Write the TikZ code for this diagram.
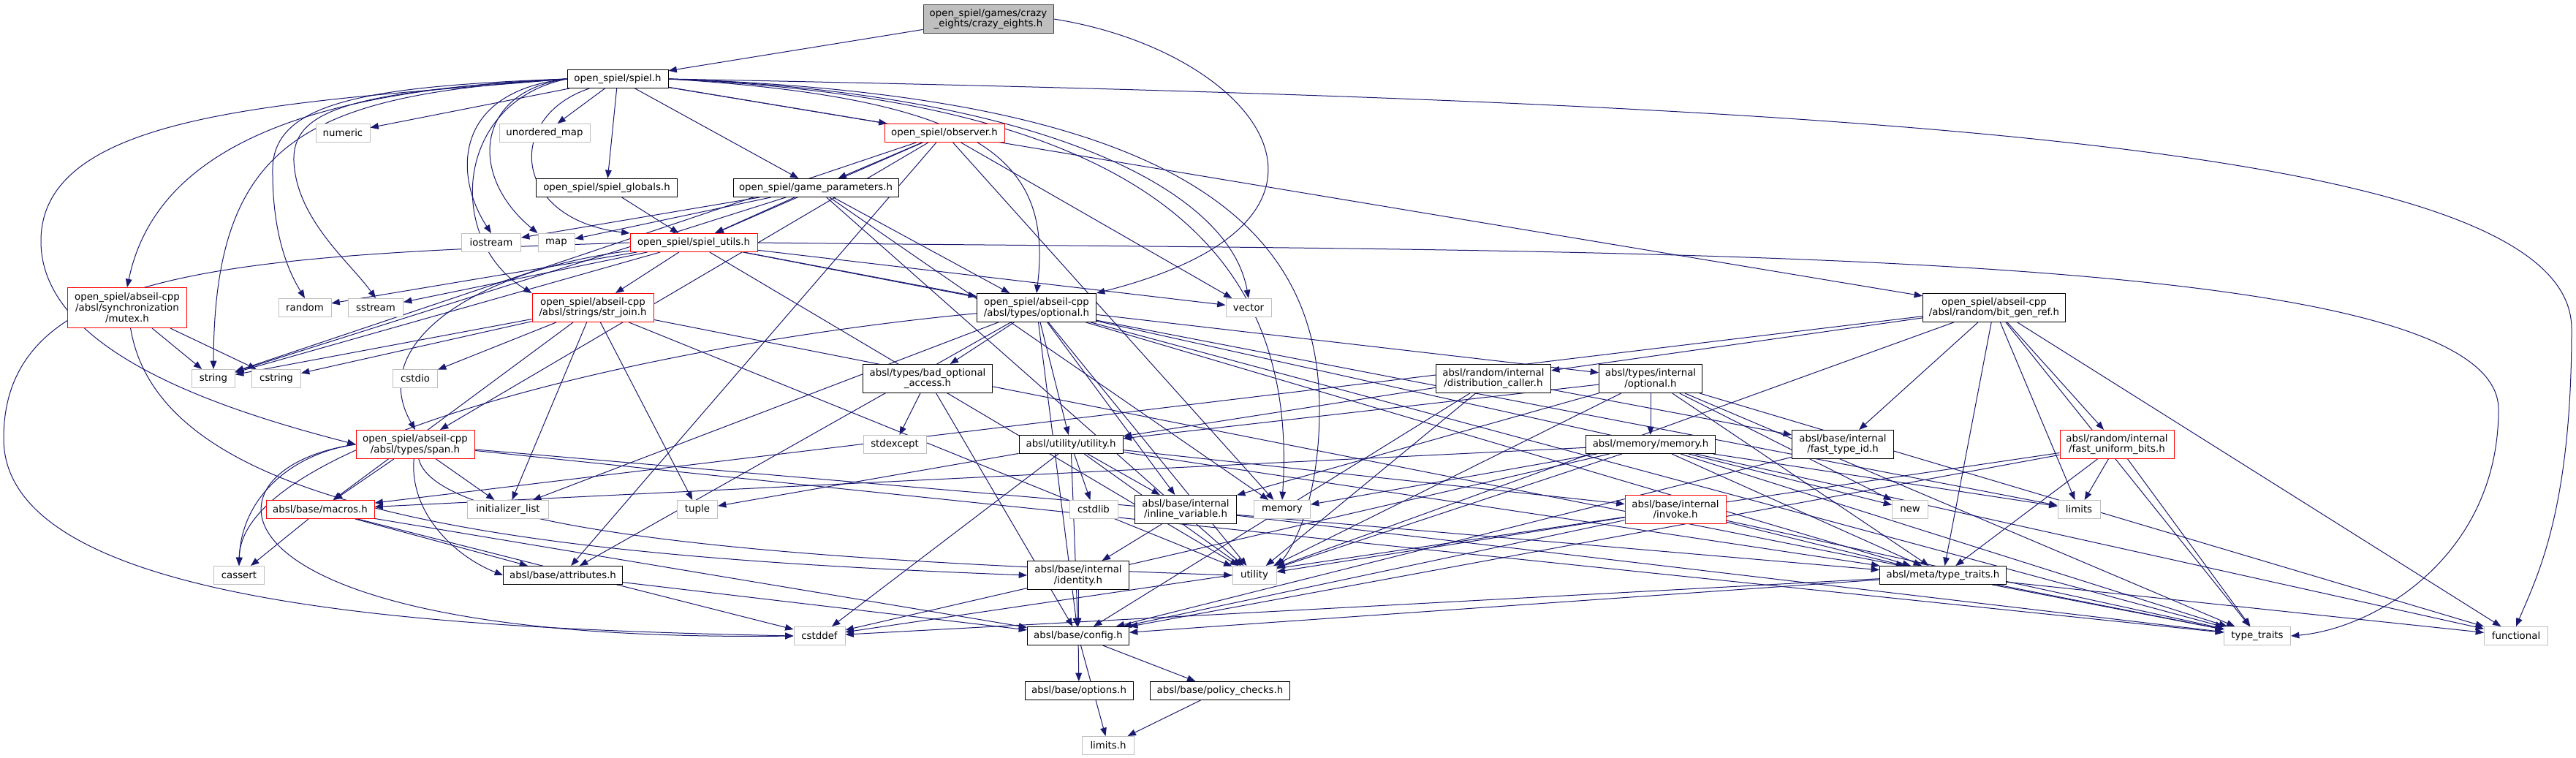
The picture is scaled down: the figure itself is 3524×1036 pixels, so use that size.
\documentclass[tikz,border=0pt]{standalone}
\usepackage{fontspec}
\setmainfont{DejaVu Sans}
\usetikzlibrary{arrows.meta,backgrounds}
\definecolor{edgec}{HTML}{191970}
\definecolor{sysc}{HTML}{BFBFBF}
\definecolor{rootc}{HTML}{BFBFBF}
\definecolor{redc}{HTML}{FF0000}
\tikzset{
  base/.style={draw, fill=white, line width=0.75pt, font=\fontsize{10}{11}\selectfont, align=center, inner sep=1pt, minimum height=18.75pt},
  wd/.style={minimum width=#1*0.75pt},
  two/.style={minimum height=29.25pt},
  three/.style={minimum height=41.25pt},
  doc/.style={base, draw=black},
  sys/.style={base, draw=sysc},
  redbox/.style={base, draw=redc},
  rootbox/.style={base, draw=black!75, fill=rootc},
  lnk/.style={draw=edgec, line width=0.75pt, -{Triangle[length=8.5pt,width=6.5pt]}}
}
\begin{document}
\begin{tikzpicture}[x=0.75pt,y=-0.75pt]
\begin{scope}[on background layer]
\fill[white] (0,0) rectangle (3524,1036);
\end{scope}
\useasboundingbox (0,0) rectangle (3524,1036);

\node[rootbox, wd=178, two] (crazy) at (1352,26) {open\_spiel/games/crazy\\\_eights/crazy\_eights.h};
\node[doc, wd=138] (spiel) at (845,108) {open\_spiel/spiel.h};
\node[sys, wd=74] (numeric) at (469,182) {numeric};
\node[sys, wd=124] (umap) at (745,182) {unordered\_map};
\node[redbox, wd=164] (observer) at (1292,182) {open\_spiel/observer.h};
\node[doc, wd=193] (globals) at (830,257) {open\_spiel/spiel\_globals.h};
\node[doc, wd=226] (gparams) at (1116,257) {open\_spiel/game\_parameters.h};
\node[sys, wd=81] (iostream) at (672,332) {iostream};
\node[sys, wd=50] (map) at (761,332) {map};
\node[redbox, wd=174] (utils) at (949,332) {open\_spiel/spiel\_utils.h};
\node[redbox, wd=163, three] (mutex) at (174,421) {open\_spiel/abseil-cpp\\/absl/synchronization\\/mutex.h};
\node[sys, wd=72] (random) at (417,421) {random};
\node[sys, wd=75] (sstream) at (514,421) {sstream};
\node[redbox, wd=166, two] (strjoin) at (811,421) {open\_spiel/abseil-cpp\\/absl/strings/str\_join.h};
\node[doc, wd=163, two] (optional) at (1418,421) {open\_spiel/abseil-cpp\\/absl/types/optional.h};
\node[sys, wd=62] (vector) at (1708,421) {vector};
\node[doc, wd=195, two] (bitgen) at (2728,421) {open\_spiel/abseil-cpp\\/absl/random/bit\_gen\_ref.h};
\node[sys, wd=59] (string) at (292,518) {string};
\node[sys, wd=67] (cstring) at (378,518) {cstring};
\node[sys, wd=61] (cstdio) at (568,518) {cstdio};
\node[doc, wd=177, two] (badopt) at (1269,518) {absl/types/bad\_optional\\\_access.h};
\node[doc, wd=157, two] (distcaller) at (2043,518) {absl/random/internal\\/distribution\_caller.h};
\node[doc, wd=141, two] (intoptional) at (2258,518) {absl/types/internal\\/optional.h};
\node[redbox, wd=162, two] (span) at (568,608) {open\_spiel/abseil-cpp\\/absl/types/span.h};
\node[sys, wd=86] (stdexcept) at (1224,608) {stdexcept};
\node[doc, wd=142] (utilityh) at (1465,608) {absl/utility/utility.h};
\node[doc, wd=177] (memoryh) at (2258,608) {absl/memory/memory.h};
\node[doc, wd=139, two] (fasttypeid) at (2521,608) {absl/base/internal\\/fast\_type\_id.h};
\node[redbox, wd=156, two] (fastuniform) at (2896,608) {absl/random/internal\\/fast\_uniform\_bits.h};
\node[redbox, wd=148] (macros) at (438,697) {absl/base/macros.h};
\node[sys, wd=111] (initlist) at (695,697) {initializer\_list};
\node[sys, wd=55] (tuple) at (954,697) {tuple};
\node[sys, wd=66] (cstdlib) at (1496,697) {cstdlib};
\node[doc, wd=139, two] (inlinevar) at (1622,697) {absl/base/internal\\/inline\_variable.h};
\node[sys, wd=77] (memory) at (1754,697) {memory};
\node[redbox, wd=138, two] (invoke) at (2292,697) {absl/base/internal\\/invoke.h};
\node[sys, wd=49] (newh) at (2613,697) {new};
\node[sys, wd=58] (limits) at (2844,697) {limits};
\node[sys, wd=69] (cassert) at (327,787) {cassert};
\node[doc, wd=163] (attributes) at (770,787) {absl/base/attributes.h};
\node[doc, wd=139, two] (identity) at (1475,787) {absl/base/internal\\/identity.h};
\node[sys, wd=60] (utility) at (1716,787) {utility};
\node[doc, wd=173] (metatt) at (2658,787) {absl/meta/type\_traits.h};
\node[sys, wd=70] (cstddef) at (1121,870) {cstddef};
\node[doc, wd=139] (config) at (1475,870) {absl/base/config.h};
\node[sys, wd=91] (typetraits) at (3088,870) {type\_traits};
\node[sys, wd=87] (functional) at (3442,870) {functional};
\node[doc, wd=148] (options) at (1476,945) {absl/base/options.h};
\node[doc, wd=191] (policy) at (1669,945) {absl/base/policy\_checks.h};
\node[sys, wd=71] (limitsh) at (1516,1020) {limits.h};

\begin{scope}[on background layer]
% curved connectors
\draw[lnk] (crazy.east) .. controls (1720,70) and (1900,300) .. (optional.north east);
\draw[lnk] (spiel.east) .. controls (2600,140) and (3518,200) .. (3518,450) .. controls (3518,700) and (3470,790) .. (functional.north);
\draw[lnk] (spiel.west) .. controls (400,140) and (56,150) .. (56,330) .. controls (56,480) and (300,560) .. (span.west);
\draw[lnk] (spiel.west) .. controls (500,120) and (220,170) .. (mutex.north);
\draw[lnk] (spiel.west) .. controls (420,130) and (293,190) .. (string.north);
\draw[lnk] (spiel.west) .. controls (500,118) and (375,140) .. (373,230) .. controls (372,330) and (400,380) .. (random.north);
\draw[lnk] (spiel.west) .. controls (480,125) and (400,150) .. (402,220) .. controls (405,300) and (480,360) .. (sstream.north);
\draw[lnk] (spiel.west) .. controls (620,140) and (610,330) .. (strjoin.north west);
\draw[lnk] (spiel.west) .. controls (620,125) and (620,240) .. (iostream.north);
\draw[lnk] (spiel.west) .. controls (650,125) and (640,240) .. (map.north west);
\draw[lnk] (spiel) .. controls (690,160) and (700,300) .. (utils.north west);
\draw[lnk] (spiel.east) .. controls (1350,135) and (1440,220) .. (optional.north);
\draw[lnk] (spiel.east) .. controls (1400,125) and (1680,250) .. (vector.north);
\draw[lnk] (spiel.east) .. controls (1500,135) and (1780,300) .. (memory.north);
\draw[lnk] (spiel.east) .. controls (1600,130) and (1805,300) .. (1805,560) .. controls (1805,700) and (1760,760) .. (utility.north east);
\draw[lnk] (utils.west) .. controls (300,350) and (5,370) .. (5,600) .. controls (5,830) and (600,860) .. (cstddef.west);
\draw[lnk] (utils.east) .. controls (2200,345) and (3418,330) .. (3418,560) .. controls (3418,760) and (3250,860) .. (typetraits.east);
\draw[lnk] (utils) .. controls (650,370) and (500,470) .. (span.north);
\draw[lnk] (mutex) .. controls (220,700) and (700,760) .. (identity.west);
\draw[lnk] (span) .. controls (600,740) and (1200,770) .. (utility.west);
\draw[lnk] (span) .. controls (560,700) and (620,760) .. (attributes.west);
\draw[lnk] (span.west) .. controls (400,620) and (330,680) .. (cassert.north);
\draw[lnk] (span.west) .. controls (260,640) and (260,880) .. (cstddef.west);
\draw[lnk] (optional) .. controls (900,470) and (330,600) .. (cassert.north);
% straight connectors
\foreach \a/\b in {crazy/spiel,
  spiel/numeric, spiel/umap, spiel/globals, spiel/gparams, spiel/observer, spiel/bitgen,
  globals/utils,
  observer/gparams, observer/utils, observer/string, observer/span, observer/attributes, observer/memory, observer/vector,
  gparams/iostream, gparams/map, gparams/string, gparams/utils, gparams/optional, gparams/memory, gparams/utility,
  utils/random, utils/sstream, utils/string, utils/strjoin, utils/optional, utils/vector, utils/utility, utils/limits,
  mutex/string, mutex/cstring,
  strjoin/string, strjoin/cstring, strjoin/cstdio, strjoin/initlist, strjoin/tuple, strjoin/macros, strjoin/utility, strjoin/typetraits,
  optional/badopt, optional/utilityh, optional/inlinevar, optional/attributes, optional/config, optional/initlist, optional/typetraits, optional/functional, optional/utility, optional/metatt, optional/intoptional,
  bitgen/fasttypeid, bitgen/macros, bitgen/metatt, bitgen/distcaller, bitgen/fastuniform, bitgen/limits, bitgen/typetraits, bitgen/utility, bitgen/functional,
  distcaller/config, distcaller/fasttypeid, distcaller/utilityh, distcaller/utility,
  intoptional/utilityh, intoptional/memoryh, intoptional/inlinevar, intoptional/utility, intoptional/typetraits, intoptional/newh, intoptional/metatt, intoptional/functional,
  memoryh/cstddef, memoryh/limits, memoryh/memory, memoryh/newh, memoryh/typetraits, memoryh/utility, memoryh/macros, memoryh/metatt,
  utilityh/cstddef, utilityh/tuple, utilityh/utility, utilityh/config, utilityh/inlinevar, utilityh/invoke, utilityh/metatt, utilityh/cstdlib,
  inlinevar/identity, inlinevar/typetraits,
  identity/config,
  invoke/utility, invoke/config, invoke/typetraits, invoke/metatt,
  metatt/config, metatt/cstddef, metatt/typetraits, metatt/functional,
  fasttypeid/config,
  fastuniform/limits, fastuniform/typetraits, fastuniform/metatt, fastuniform/config, fastuniform/cstddef,
  config/options, config/policy, config/limitsh,
  policy/limitsh,
  badopt/stdexcept, badopt/config,
  macros/cassert, macros/cstddef, macros/config, macros/attributes,
  attributes/config,
  span/macros, span/initlist, span/metatt, span/typetraits}
  {\draw[lnk] (\a) -- (\b);}
\end{scope}
\end{tikzpicture}
\end{document}
